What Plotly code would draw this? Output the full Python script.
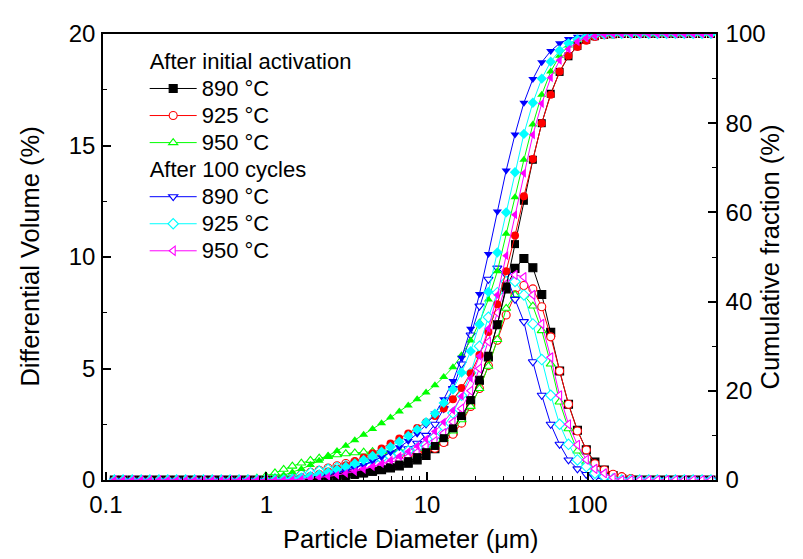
import plotly.graph_objects as go

# Particle size classes (µm)
size_um = [0.113, 0.128, 0.146, 0.166, 0.188, 0.214, 0.243, 0.276, 0.314, 0.357,
           0.405, 0.460, 0.523, 0.594, 0.675, 0.767, 0.872, 0.991, 1.13, 1.28,
           1.45, 1.65, 1.88, 2.13, 2.42, 2.75, 3.12, 3.55, 4.03, 4.58,
           5.21, 5.92, 6.72, 7.64, 8.68, 9.86, 11.2, 12.7, 14.5, 16.4,
           18.7, 21.2, 24.1, 27.4, 31.1, 35.3, 40.1, 45.6, 51.8, 58.9,
           66.9, 76.0, 86.4, 98.1, 111, 127, 144, 163, 186, 211,
           240, 272, 310, 352, 400, 454, 516, 586]

# Differential volume (%)
diff_890_init = [0, 0, 0, 0, 0, 0, 0, 0, 0, 0, 0, 0, 0, 0, 0, 0, 0, 0, 0, 0.01,
                 0.03, 0.05, 0.08, 0.11, 0.15, 0.19, 0.23, 0.28, 0.33, 0.39,
                 0.46, 0.54, 0.63, 0.75, 0.9, 1.1, 1.4, 1.75, 2.2, 2.75,
                 3.55, 4.47, 5.52, 6.96, 8.57, 9.49, 9.93, 9.52, 8.32, 6.62,
                 4.89, 3.40, 2.23, 1.35, 0.80, 0.45, 0.2, 0.05, 0, 0,
                 0, 0, 0, 0, 0, 0, 0, 0]
diff_925_init = [0, 0, 0, 0, 0, 0, 0, 0, 0, 0, 0, 0, 0, 0, 0, 0, 0, 0, 0.05, 0.1,
                 0.17, 0.25, 0.34, 0.44, 0.54, 0.64, 0.74, 0.83, 0.92, 1.0,
                 1.06, 1.1, 1.12, 1.15, 1.2, 1.28, 1.42, 1.68, 2.05, 2.55,
                 3.3, 4.1, 5.13, 6.27, 7.4, 8.3, 8.72, 8.57, 7.77, 6.42,
                 4.89, 3.40, 2.2, 1.35, 0.73, 0.45, 0.26, 0.15, 0.07, 0,
                 0, 0, 0, 0, 0, 0, 0, 0]
diff_950_init = [0, 0, 0, 0, 0, 0, 0, 0, 0, 0, 0, 0, 0, 0, 0, 0.03, 0.08, 0.18, 0.32, 0.48,
                 0.62, 0.76, 0.88, 0.98, 1.06, 1.13, 1.18, 1.22, 1.25, 1.27,
                 1.28, 1.3, 1.32, 1.36, 1.42, 1.5, 1.62, 1.85, 2.2, 2.7,
                 3.3, 4.1, 5.1, 6.3, 7.7, 8.3, 8.3, 7.8, 6.7, 5.2,
                 3.5, 2.3, 1.3, 0.8, 0.45, 0.2, 0.07, 0, 0, 0,
                 0, 0, 0, 0, 0, 0, 0, 0]
diff_890_100 = [0, 0, 0, 0, 0, 0, 0, 0, 0, 0, 0, 0, 0, 0, 0, 0, 0, 0, 0.03, 0.06,
                0.1, 0.15, 0.2, 0.28, 0.35, 0.42, 0.5, 0.6, 0.7, 0.8,
                0.9, 1.05, 1.2, 1.4, 1.65, 2.0, 2.5, 3.2, 4.1, 5.2,
                6.5, 7.8, 9.0, 9.5, 9.2, 8.1, 7.1, 5.3, 3.8, 2.5,
                1.6, 0.9, 0.5, 0.25, 0.1, 0.03, 0, 0, 0, 0,
                0, 0, 0, 0, 0, 0, 0, 0]
diff_925_100 = [0, 0, 0, 0, 0, 0, 0, 0, 0, 0, 0, 0, 0, 0, 0, 0, 0, 0.02, 0.05, 0.1,
                0.16, 0.24, 0.32, 0.4, 0.48, 0.56, 0.64, 0.72, 0.8, 0.88,
                0.97, 1.07, 1.18, 1.3, 1.45, 1.6, 1.95, 2.4, 3.0, 3.8,
                4.8, 6.0, 7.3, 8.4, 8.9, 8.9, 8.3, 7.0, 5.4, 3.8,
                2.5, 1.6, 0.9, 0.6, 0.3, 0.15, 0.05, 0, 0, 0,
                0, 0, 0, 0, 0, 0, 0, 0]
diff_950_100 = [0, 0, 0, 0, 0, 0, 0, 0, 0, 0, 0, 0, 0, 0, 0, 0, 0, 0, 0, 0.03,
                0.06, 0.1, 0.15, 0.2, 0.25, 0.31, 0.37, 0.43, 0.5, 0.58,
                0.68, 0.78, 0.9, 1.05, 1.25, 1.5, 1.75, 2.1, 2.6, 3.2,
                4.0, 5.0, 6.2, 7.5, 8.8, 9.2, 9.1, 8.3, 7.0, 5.5,
                3.8, 2.5, 1.58, 0.91, 0.5, 0.3, 0.1, 0, 0, 0,
                0, 0, 0, 0, 0, 0, 0, 0]

# Cumulative fraction (%)
cum_890_init = [0, 0, 0, 0, 0, 0, 0, 0, 0, 0, 0, 0, 0, 0, 0, 0, 0, 0, 0, 0.01,
                0.04, 0.09, 0.17, 0.28, 0.43, 0.62, 0.85, 1.13, 1.46, 1.85,
                2.31, 2.85, 3.48, 4.23, 5.13, 6.23, 7.63, 9.38, 11.58, 14.33,
                17.88, 22.35, 27.87, 34.83, 43.40, 52.89, 62.6, 71.8, 80.0, 86.6,
                91.5, 95.0, 97.3, 98.7, 99.5, 99.8, 99.95, 100, 100, 100,
                100, 100, 100, 100, 100, 100, 100, 100]
cum_925_init = [0, 0, 0, 0, 0, 0, 0, 0, 0, 0, 0, 0, 0, 0, 0, 0, 0, 0, 0.05, 0.15,
                0.32, 0.57, 0.91, 1.35, 1.89, 2.53, 3.27, 4.10, 5.02, 6.02,
                7.08, 8.18, 9.30, 10.45, 11.65, 12.93, 14.35, 16.03, 18.08, 20.63,
                23.93, 28.03, 33.16, 39.43, 46.83, 54.8, 63.6, 72.0, 80.0, 86.4,
                91.6, 95.1, 97.1, 98.5, 99.3, 99.7, 99.9, 100, 100, 100,
                100, 100, 100, 100, 100, 100, 100, 100]
cum_950_init = [0, 0, 0, 0, 0, 0, 0, 0, 0, 0, 0, 0, 0, 0, 0, 0.03, 0.11, 0.29, 0.61, 1.09,
                1.71, 2.47, 3.35, 4.33, 5.39, 6.52, 7.70, 8.92, 10.17, 11.44,
                12.72, 14.02, 15.34, 16.70, 18.12, 19.62, 21.24, 23.09, 25.29, 27.99,
                31.29, 35.39, 40.49, 46.79, 55.2, 63.4, 71.8, 79.7, 86.4, 91.6,
                95.1, 97.4, 98.7, 99.4, 99.8, 99.95, 100, 100, 100, 100,
                100, 100, 100, 100, 100, 100, 100, 100]
cum_890_100 = [0, 0, 0, 0, 0, 0, 0, 0, 0, 0, 0, 0, 0, 0, 0, 0, 0, 0, 0.03, 0.09,
               0.19, 0.34, 0.54, 0.82, 1.17, 1.59, 2.09, 2.69, 3.39, 4.19,
               5.09, 6.14, 7.34, 8.74, 10.39, 12.39, 14.89, 18.09, 22.19, 27.39,
               33.89, 41.69, 50.69, 60.19, 69.39, 77.49, 84.59, 89.89, 93.69, 96.19,
               97.9, 98.9, 99.4, 99.7, 99.9, 100, 100, 100, 100, 100,
               100, 100, 100, 100, 100, 100, 100, 100]
cum_925_100 = [0, 0, 0, 0, 0, 0, 0, 0, 0, 0, 0, 0, 0, 0, 0, 0, 0, 0.02, 0.07, 0.17,
               0.33, 0.57, 0.89, 1.29, 1.77, 2.33, 2.97, 3.69, 4.49, 5.37,
               6.34, 7.41, 8.59, 9.89, 11.34, 12.94, 14.89, 17.29, 20.29, 24.09,
               28.89, 34.89, 42.19, 51.0, 60.0, 69.0, 77.6, 84.6, 90.0, 93.8,
               96.3, 97.9, 98.8, 99.4, 99.7, 99.9, 100, 100, 100, 100,
               100, 100, 100, 100, 100, 100, 100, 100]
cum_950_100 = [0, 0, 0, 0, 0, 0, 0, 0, 0, 0, 0, 0, 0, 0, 0, 0, 0, 0, 0, 0.03,
               0.09, 0.19, 0.34, 0.54, 0.79, 1.10, 1.47, 1.90, 2.40, 2.98,
               3.66, 4.44, 5.34, 6.39, 7.64, 9.14, 10.89, 12.99, 15.59, 18.79,
               22.79, 27.79, 33.99, 41.49, 50.29, 59.49, 68.8, 77.4, 84.4, 90.2,
               94.1, 96.6, 98.3, 99.1, 99.6, 99.9, 100, 100, 100, 100,
               100, 100, 100, 100, 100, 100, 100, 100]

x_tick_vals = [0.1, 1, 10, 100]
x_tick_text = ["0.1", "1", "10", "100"]
x_minor_vals = [0.2, 0.3, 0.4, 0.5, 0.6, 0.7, 0.8, 0.9,
                2, 3, 4, 5, 6, 7, 8, 9,
                20, 30, 40, 50, 60, 70, 80, 90,
                200, 300, 400, 500, 600]

FONT = "Arial, Liberation Sans, Helvetica, sans-serif"
LEG_PX = 22  # displayed legend text size


def big(t):
    return '<span style="font-size:%dpx">%s</span>' % (LEG_PX, t)


series = [
    # name, group, group title, diff, cum, color, symbol, diff marker fill
    ("890 °C", "init", "After initial activation", diff_890_init, cum_890_init, "#000000", "square", "#000000"),
    ("925 °C", "init", None, diff_925_init, cum_925_init, "#FF0000", "circle", "white"),
    ("950 °C", "init", None, diff_950_init, cum_950_init, "#00FF00", "triangle-up", "white"),
    ("890 °C", "cyc", "After 100 cycles", diff_890_100, cum_890_100, "#0000FF", "triangle-down", "white"),
    ("925 °C", "cyc", None, diff_925_100, cum_925_100, "#00FFFF", "diamond", "white"),
    ("950 °C", "cyc", None, diff_950_100, cum_950_100, "#FF00FF", "triangle-left", "white"),
]

fig = go.Figure()

for name, grp, gtitle, d, c, col, sym, dfill in series:
    fig.add_trace(go.Scatter(
        x=size_um, y=c, yaxis="y2", mode="lines+markers",
        line=dict(color=col, width=1),
        marker=dict(symbol=sym, size=8, color=col, line=dict(width=0)),
        showlegend=False, hoverinfo="skip",
    ))

for name, grp, gtitle, d, c, col, sym, dfill in series:
    kw = {}
    if gtitle:
        kw["legendgrouptitle"] = dict(text=big(gtitle), font=dict(size=18.5, family=FONT, color="black"))
    fig.add_trace(go.Scatter(
        x=size_um, y=d, mode="lines+markers", name=big(name), legendgroup=grp,
        line=dict(color=col, width=1),
        marker=dict(symbol=sym, size=8, color=dfill, line=dict(width=1.1, color=col)),
        **kw,
    ))

axis_common = dict(showgrid=False, zeroline=False, showline=True, linecolor="black",
                   linewidth=1.5, ticks="inside", ticklen=8, tickwidth=1.5,
                   tickcolor="black",
                   tickfont=dict(size=24, family=FONT, color="black"))

TITLE_FONT = dict(size=25.5, family=FONT, color="black")

# the page body adds an 8 px offset; margins compensate so the plot area sits
# at x 103-716, y 25-480 of the window
fig.update_layout(
    width=803, height=559,
    margin=dict(l=95, r=95, t=17, b=87),
    paper_bgcolor="white", plot_bgcolor="white",
    font=dict(family=FONT, color="black"),
    xaxis=dict(type="log", range=[-1.0177, 2.7993], tickmode="array",
               tickvals=x_tick_vals, ticktext=x_tick_text, mirror=True,
               ticklabelstandoff=2,
               minor=dict(tickmode="array", tickvals=x_minor_vals, ticks="inside",
                          ticklen=4, tickwidth=1.2, tickcolor="black"),
               **axis_common),
    yaxis=dict(range=[0, 20], tickmode="array", tickvals=[0, 5, 10, 15, 20],
               ticklabelstandoff=1,
               minor=dict(tickmode="array", tickvals=[2.5, 7.5, 12.5, 17.5], ticks="inside",
                          ticklen=4, tickwidth=1.2, tickcolor="black"),
               **axis_common),
    yaxis2=dict(range=[0, 100], overlaying="y", side="right", tickmode="array",
                tickvals=[0, 20, 40, 60, 80, 100], ticklabelstandoff=3,
                minor=dict(tickmode="array", tickvals=[10, 30, 50, 70, 90], ticks="inside",
                           ticklen=4, tickwidth=1.2, tickcolor="black"),
                **axis_common),
    legend=dict(x=0.068, y=0.980, xanchor="left", yanchor="top", bgcolor="rgba(0,0,0,0)",
                font=dict(size=18.5, family=FONT, color="black"), itemwidth=47,
                tracegroupgap=0, traceorder="grouped"),
    annotations=[
        dict(text="Particle Diameter (μm)", xref="paper", yref="paper", x=0.502, y=-0.132,
             xanchor="center", yanchor="middle", showarrow=False, font=TITLE_FONT),
        dict(text="Differential Volume (%)", xref="paper", yref="paper", x=-0.119, y=0.501,
             xanchor="center", yanchor="middle", textangle=-90, showarrow=False, font=TITLE_FONT),
        dict(text="Cumulative fraction (%)", xref="paper", yref="paper", x=1.088, y=0.501,
             xanchor="center", yanchor="middle", textangle=-90, showarrow=False, font=TITLE_FONT),
    ],
)

fig.write_html("out.html")
